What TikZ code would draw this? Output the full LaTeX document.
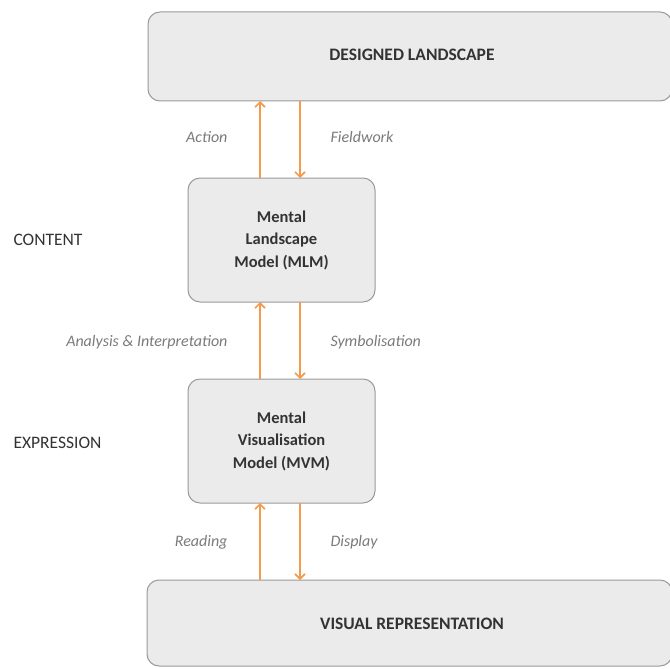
\documentclass[tikz,border=0pt]{standalone}
\usepackage{fontspec}
\setmainfont{Carlito}
\usetikzlibrary{arrows.meta}
\definecolor{boxfill}{HTML}{EBEBEB}
\definecolor{boxline}{HTML}{9A9A9A}
\definecolor{arr}{HTML}{F39A4C}
\definecolor{lbl}{HTML}{7A7A7A}
\definecolor{txt}{HTML}{333333}
\begin{document}
\begin{tikzpicture}[x=1pt,y=-1pt,
  boxstyle/.style={draw=boxline,line width=1pt,fill=boxfill,rounded corners=12pt},
  boxtext/.style={text=txt,font=\bfseries\fontsize{16.5}{22.5}\selectfont,align=center},
  captext/.style={text=txt,font=\bfseries\fontsize{17.5}{22}\selectfont},
  sidetext/.style={text=txt,font=\fontsize{17.5}{21}\selectfont},
  flow/.style={draw=arr,line width=1.6pt,-{Straight Barb[length=5pt,width=10pt,line width=1.6pt]}},
  flowlabel/.style={text=lbl,font=\itshape\fontsize{16}{19}\selectfont}]
\useasboundingbox (0,0) rectangle (670,669);
% boxes
\draw[boxstyle] (148,12) rectangle (672,101);
\node[captext] (dl) at (412,55) {DESIGNED LANDSCAPE};
\draw[boxstyle] (188,178) rectangle (375,302);
\node[boxtext] (mlm) at (281.5,240) {Mental\\Landscape\\Model (MLM)};
\draw[boxstyle] (188,379) rectangle (375,503);
\node[boxtext] (mvm) at (281.5,441) {Mental\\Visualisation\\Model (MVM)};
\draw[boxstyle] (147,580) rectangle (672,666);
\node[captext] (vr) at (412,624) {VISUAL REPRESENTATION};
% anchor coordinates
\coordinate (dlb1) at (260,101); \coordinate (dlb2) at (300,101);
\coordinate (mlmt1) at (260,178); \coordinate (mlmt2) at (300,178);
\coordinate (mlmb1) at (260,302); \coordinate (mlmb2) at (300,302);
\coordinate (mvmt1) at (260,379); \coordinate (mvmt2) at (300,379);
\coordinate (mvmb1) at (260,503); \coordinate (mvmb2) at (300,503);
\coordinate (vrt1) at (260,580); \coordinate (vrt2) at (300,580);
% arrows
\draw[flow] (mlmt1) -- (dlb1);
\draw[flow] (dlb2) -- (mlmt2);
\draw[flow] (mvmt1) -- (mlmb1);
\draw[flow] (mlmb2) -- (mvmt2);
\draw[flow] (vrt1) -- (mvmb1);
\draw[flow] (mvmb2) -- (vrt2);
% labels
\node[flowlabel,anchor=east] (la) at (231,137) {Action};
\node[flowlabel,anchor=west] (lf) at (327,137) {Fieldwork};
\node[flowlabel,anchor=east] (lai) at (231,342) {Analysis \& Interpretation};
\node[flowlabel,anchor=west] (ls) at (327,342) {Symbolisation};
\node[flowlabel,anchor=east] (lr) at (231,542) {Reading};
\node[flowlabel,anchor=west] (ld) at (327,542) {Display};
\node[sidetext,anchor=west] (content) at (10,240) {CONTENT};
\node[sidetext,anchor=west] (expr) at (10,443) {EXPRESSION};
\end{tikzpicture}
\end{document}
